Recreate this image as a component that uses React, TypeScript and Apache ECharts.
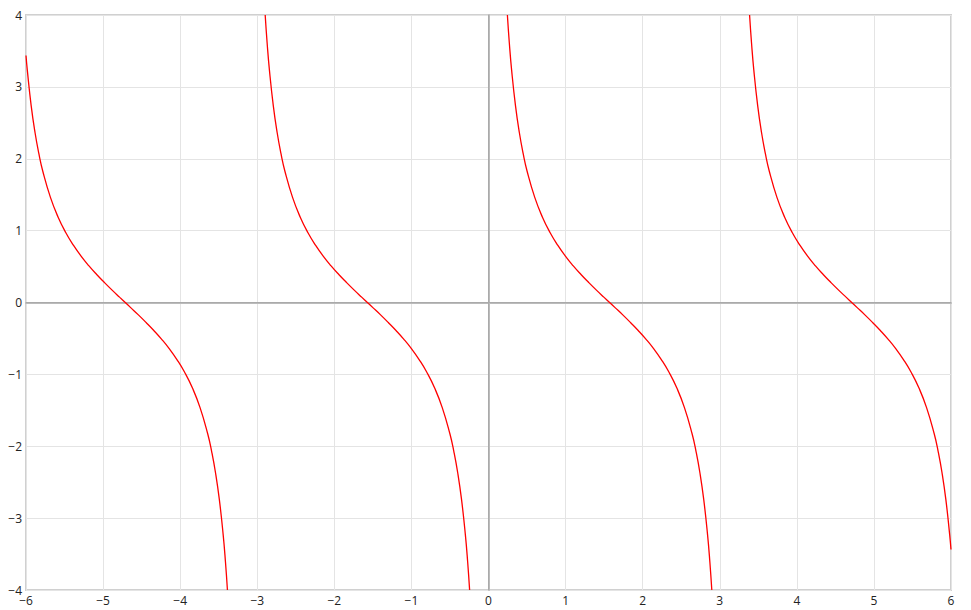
import React, { useEffect, useRef } from "react";
import * as echarts from "echarts";

const xTicks = [-6, -5, -4, -3, -2, -1, 0, 1, 2, 3, 4, 5, 6];
const yTicks = [-4, -3, -2, -1, 0, 1, 2, 3, 4];

const branch1X = [-6.0, -5.983, -5.933, -5.883, -5.833, -5.783, -5.683, -5.583, -5.483, -5.383, -5.283, -5.183, -5.083, -4.983, -4.883, -4.783, -4.712, -4.642, -4.542, -4.442, -4.342, -4.242, -4.142, -4.042, -3.942, -3.842, -3.742, -3.642, -3.592, -3.542, -3.492, -3.442, -3.412, -3.387];
const branch1Y = [3.436, 3.233, 2.74, 2.365, 2.07, 1.83, 1.462, 1.187, 0.971, 0.794, 0.642, 0.509, 0.389, 0.278, 0.172, 0.071, 0, -0.071, -0.172, -0.278, -0.389, -0.509, -0.642, -0.794, -0.971, -1.187, -1.462, -1.83, -2.07, -2.365, -2.74, -3.233, -3.614, -4.0];

const branch2X = [-2.897, -2.872, -2.842, -2.792, -2.742, -2.692, -2.642, -2.542, -2.442, -2.342, -2.242, -2.142, -2.042, -1.942, -1.842, -1.742, -1.642, -1.571, -1.5, -1.4, -1.3, -1.2, -1.1, -1.0, -0.9, -0.8, -0.7, -0.6, -0.5, -0.45, -0.4, -0.35, -0.3, -0.27, -0.245];
const branch2Y = [4.0, 3.614, 3.233, 2.74, 2.365, 2.07, 1.83, 1.462, 1.187, 0.971, 0.794, 0.642, 0.509, 0.389, 0.278, 0.172, 0.071, 0, -0.071, -0.172, -0.278, -0.389, -0.509, -0.642, -0.794, -0.971, -1.187, -1.462, -1.83, -2.07, -2.365, -2.74, -3.233, -3.614, -4.0];

const branch3X = [0.245, 0.27, 0.3, 0.35, 0.4, 0.45, 0.5, 0.6, 0.7, 0.8, 0.9, 1.0, 1.1, 1.2, 1.3, 1.4, 1.5, 1.571, 1.642, 1.742, 1.842, 1.942, 2.042, 2.142, 2.242, 2.342, 2.442, 2.542, 2.642, 2.692, 2.742, 2.792, 2.842, 2.872, 2.897];
const branch3Y = [4.0, 3.614, 3.233, 2.74, 2.365, 2.07, 1.83, 1.462, 1.187, 0.971, 0.794, 0.642, 0.509, 0.389, 0.278, 0.172, 0.071, 0, -0.071, -0.172, -0.278, -0.389, -0.509, -0.642, -0.794, -0.971, -1.187, -1.462, -1.83, -2.07, -2.365, -2.74, -3.233, -3.614, -4.0];

const branch4X = [3.387, 3.412, 3.442, 3.492, 3.542, 3.592, 3.642, 3.742, 3.842, 3.942, 4.042, 4.142, 4.242, 4.342, 4.442, 4.542, 4.642, 4.712, 4.783, 4.883, 4.983, 5.083, 5.183, 5.283, 5.383, 5.483, 5.583, 5.683, 5.783, 5.833, 5.883, 5.933, 5.983, 6.0];
const branch4Y = [4.0, 3.614, 3.233, 2.74, 2.365, 2.07, 1.83, 1.462, 1.187, 0.971, 0.794, 0.642, 0.509, 0.389, 0.278, 0.172, 0.071, 0, -0.071, -0.172, -0.278, -0.389, -0.509, -0.642, -0.794, -0.971, -1.187, -1.462, -1.83, -2.07, -2.365, -2.74, -3.233, -3.436];

const branches = [
  [branch1X, branch1Y],
  [branch2X, branch2Y],
  [branch3X, branch3Y],
  [branch4X, branch4Y],
];

const fmt = (v: number) => String(v).replace("-", "\u2212");

export default function App() {
  const ref = useRef<HTMLDivElement>(null);
  useEffect(() => {
    if (!ref.current) return;
    const chart = echarts.init(ref.current, undefined, { renderer: "svg" });
    const font = "'Open Sans', 'Noto Sans', sans-serif";
    const series: any[] = branches.map(([xs, ys], i) => ({
      type: "line",
      data: xs.map((x, j) => [x, ys[j]]),
      showSymbol: false,
      smooth: true,
      lineStyle: { color: "#ff0000", width: 1.3 },
      clip: true,
      silent: true,
      z: 5,
      markLine:
        i === 0
          ? {
              silent: true,
              symbol: "none",
              label: { show: false },
              lineStyle: { color: "#aaaaaa", width: 1, type: "solid" },
              data: [{ xAxis: 0 }, { yAxis: 0 }],
              z: 3,
            }
          : undefined,
    }));
    chart.setOption({
      animation: false,
      grid: {
        left: 26,
        right: 20,
        top: 15,
        bottom: 20,
        show: true,
        borderColor: "#d0d0d0",
        borderWidth: 2,
      },
      xAxis: {
        type: "value",
        min: xTicks[0],
        max: xTicks[xTicks.length - 1],
        interval: 1,
        axisLine: { show: true, lineStyle: { color: "#bbbbbb", width: 2 } },
        axisTick: { show: false },
        splitLine: { show: true, lineStyle: { color: "#e4e4e4", width: 1 } },
        axisLabel: {
          color: "#222",
          fontFamily: font,
          fontSize: 12,
          margin: 4,
          formatter: (v: number) => fmt(v),
        },
      },
      yAxis: {
        type: "value",
        min: yTicks[0],
        max: yTicks[yTicks.length - 1],
        interval: 1,
        axisLine: { show: true, lineStyle: { color: "#bbbbbb", width: 2 } },
        axisTick: { show: false },
        splitLine: { show: true, lineStyle: { color: "#e4e4e4", width: 1 } },
        axisLabel: {
          color: "#222",
          fontFamily: font,
          fontSize: 12,
          margin: 4,
          formatter: (v: number) => fmt(v),
        },
      },
      series,
    });
    return () => chart.dispose();
  }, []);
  return <div ref={ref} style={{ width: 971, height: 610, position: "absolute", left: 0, top: 0 }} />;
}
